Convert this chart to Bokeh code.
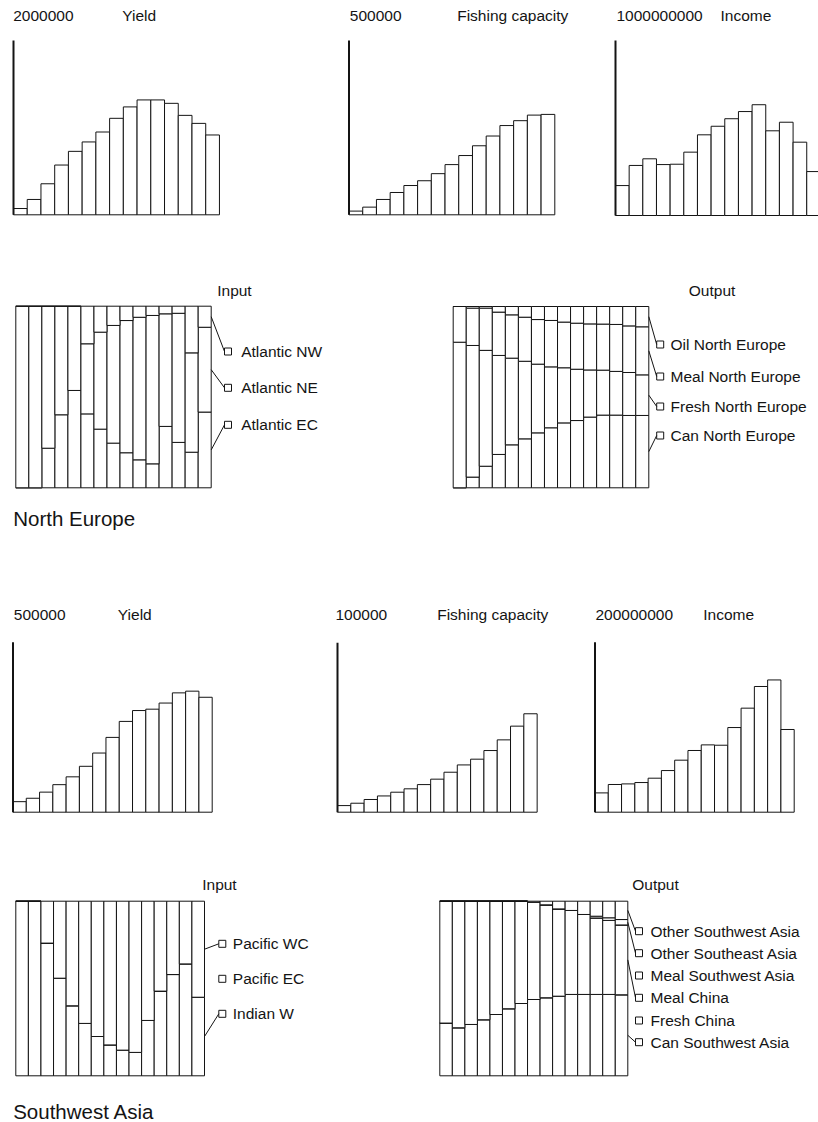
import numpy as np
from bokeh.plotting import figure
from bokeh.layouts import column, row
from bokeh.models import ColumnDataSource, Range1d
from bokeh.core.properties import value
from bokeh.embed import file_html
from bokeh.resources import INLINE

# ---------------- data ----------------
periods = list(range(1, 16))

# North Europe
ne_yield = [72000, 176000, 356000, 571000, 728000, 836000, 950000, 1107000,
            1238000, 1318000, 1318000, 1279000, 1141000, 1049000, 916000]
ne_capacity = [10600, 22000, 44000, 64000, 84000, 97700, 118000, 144000,
               170000, 198000, 226000, 256000, 270000, 286000, 288000]
ne_income = [171e6, 286e6, 324e6, 291e6, 293e6, 362e6, 461e6, 510e6,
             553e6, 594e6, 633e6, 484e6, 533e6, 419e6, 251e6]

ne_input_labels = ["Atlantic NW", "Atlantic NE", "Atlantic EC"]          # top -> bottom
ne_in_nw = [0, 0, 0, 0, 0, 0.207, 0.143, 0.106, 0.079, 0.061, 0.051, 0.042, 0.039, 0.257, 0.116]
ne_in_ne = [1, 1, 0.782, 0.598, 0.464, 0.386, 0.534, 0.648, 0.728, 0.785, 0.817, 0.620, 0.711, 0.547, 0.467]
ne_in_ec = [0, 0, 0.218, 0.402, 0.536, 0.407, 0.323, 0.246, 0.193, 0.154, 0.132, 0.338, 0.250, 0.196, 0.417]

ne_output_labels = ["Oil North Europe", "Meal North Europe", "Fresh North Europe", "Can North Europe"]
ne_out_oil = [0, 0.009, 0.009, 0.031, 0.046, 0.059, 0.072, 0.077, 0.086, 0.092, 0.096, 0.097, 0.099, 0.107, 0.112]
ne_out_meal = [0.197, 0.206, 0.233, 0.239, 0.239, 0.243, 0.246, 0.256, 0.252, 0.254, 0.254, 0.254, 0.259, 0.257, 0.265]
ne_out_fresh = [0.803, 0.726, 0.639, 0.546, 0.478, 0.428, 0.379, 0.336, 0.304, 0.283, 0.260, 0.248, 0.241, 0.237, 0.224]
ne_out_can = [0, 0.059, 0.119, 0.184, 0.237, 0.270, 0.303, 0.331, 0.358, 0.371, 0.390, 0.401, 0.401, 0.399, 0.399]

# Southwest Asia
sw_yield = [31000, 41000, 59000, 81000, 104000, 135000, 174000, 220000,
            267000, 299000, 303000, 321000, 351000, 356000, 338000]
sw_capacity = [3900, 5300, 7500, 9600, 11800, 13800, 16300, 19500,
               23600, 27900, 31300, 36400, 42700, 50800, 58100]
sw_income = [22.7e6, 32.6e6, 33.3e6, 34.9e6, 40.0e6, 49.0e6, 61.2e6, 72.6e6,
             79.2e6, 78.8e6, 99.6e6, 122.4e6, 147.9e6, 155.6e6, 97.3e6]

sw_input_labels = ["Pacific WC", "Pacific EC", "Indian W"]
sw_in_pwc = [0, 0, 0.240, 0.441, 0.599, 0.700, 0.775, 0.823, 0.853, 0.866, 0.683, 0.515, 0.420, 0.359, 0.550]
sw_in_pec = [0, 0, 0, 0, 0, 0, 0, 0, 0, 0, 0, 0, 0, 0, 0]
sw_in_iw = [1, 1, 0.760, 0.559, 0.401, 0.300, 0.225, 0.177, 0.147, 0.134, 0.317, 0.485, 0.580, 0.641, 0.450]

sw_output_labels = ["Other Southwest Asia", "Other Southeast Asia", "Meal Southwest Asia",
                    "Meal China", "Fresh China", "Can Southwest Asia"]
sw_out_osw = [0, 0, 0, 0, 0, 0, 0, 0.006, 0.021, 0.044, 0.053, 0.076, 0.086, 0.095, 0.105]
sw_out_ose = [0, 0, 0, 0, 0, 0, 0, 0, 0, 0, 0, 0, 0.010, 0.015, 0.031]
sw_out_msw = [0, 0, 0, 0, 0, 0, 0, 0, 0, 0, 0, 0, 0, 0, 0]
sw_out_mc = [0.698, 0.725, 0.706, 0.679, 0.649, 0.616, 0.586, 0.557, 0.532, 0.500, 0.481, 0.458, 0.438, 0.424, 0.400]
sw_out_fc = [0, 0, 0, 0, 0, 0, 0, 0, 0, 0, 0, 0, 0, 0, 0]
sw_out_can = [0.302, 0.275, 0.294, 0.321, 0.351, 0.384, 0.414, 0.437, 0.447, 0.456, 0.466, 0.466, 0.466, 0.466, 0.464]

# ---------------- styling ----------------
FONT = value("Liberation Sans")
FS = "15.5px"
INK = "#141414"


class Panel:
    """A figure whose frame is the whole canvas; data are placed with the
    figure's own linear scales, anchored to a page-pixel layout."""

    def __init__(self, X0, Y0, W, H, ax, bw, yt, yb, vmax):
        self.ax, self.bw, self.yb = ax, bw, yb
        self.ppu = (yb - yt) / vmax
        xr = ((X0 - ax) / bw, (X0 + W - ax) / bw)
        yr = ((yb - (Y0 + H)) / self.ppu, (yb - Y0) / self.ppu)
        p = figure(width=W, height=H, x_range=Range1d(*xr), y_range=Range1d(*yr),
                   output_backend="svg", toolbar_location=None, title=None,
                   x_axis_location=None, y_axis_location=None, min_border=0,
                   outline_line_color=None, background_fill_color="white",
                   border_fill_color="white")
        p.grid.visible = False
        self.p = p

    def dx(self, px):
        return (px - self.ax) / self.bw

    def dy(self, py):
        return (self.yb - py) / self.ppu

    def label(self, txt, px, py, size=FS):
        self.p.text(x=[self.dx(px)], y=[self.dy(py)], text=[txt], text_font=FONT,
                    text_font_size=size, text_baseline="middle", text_align="left",
                    text_color=INK)


def bar_panel(X0, Y0, W, H, ax, bw, yt, yb, vmax, vals, scale_txt, scale_px, title, title_px, label_py):
    pn = Panel(X0, Y0, W, H, ax, bw, yt, yb, vmax)
    xs = np.arange(len(periods)) + 0.5
    pn.p.vbar(x=xs, width=1, bottom=0, top=vals, fill_color="white",
              line_color=INK, line_width=1)
    pn.p.segment(x0=[0], y0=[0], x1=[0], y1=[vmax], line_color=INK, line_width=2)
    pn.label(scale_txt, scale_px, label_py)
    pn.label(title, title_px, label_py)
    return pn.p


def stack_panel(X0, Y0, W, H, bx0, bx1, by_top, by_bot, series_top_down, labels,
                title, title_px, title_py, sq_px, txt_px, leg_py, section=None):
    n = len(periods)
    pn = Panel(X0, Y0, W, H, bx0, (bx1 - bx0) / n, by_top, by_bot, 1.0)
    p = pn.p
    keys = [f"s{i}" for i in range(len(series_top_down))]
    data = {"x": np.arange(n) + 0.5}
    for k, s in zip(keys, series_top_down):
        data[k] = s
    src = ColumnDataSource(data)
    p.vbar_stack(stackers=keys[::-1], x="x", width=1, source=src,
                 fill_color="white", line_color=INK, line_width=1)
    # legend squares, texts and leader lines to the last bar
    sq_x = pn.dx(sq_px)
    half = 3.5 / pn.bw
    ly = [pn.dy(v) for v in leg_py]
    p.scatter(x=[sq_x] * len(labels), y=ly, marker="square", size=7,
              fill_color="white", line_color=INK, line_width=1)
    p.text(x=[pn.dx(txt_px)] * len(labels), y=ly, text=labels, text_font=FONT,
           text_font_size=FS, text_baseline="middle", text_align="left", text_color=INK)
    last = [s[-1] for s in series_top_down]
    top = 1.0
    x0s, y0s, x1s, y1s = [], [], [], []
    for v, yy in zip(last, ly):
        mid = top - v / 2
        if v > 0:
            x0s.append(n)
            y0s.append(mid)
            x1s.append(sq_x - half)
            y1s.append(yy)
        top -= v
    p.segment(x0=x0s, y0=y0s, x1=x1s, y1=y1s, line_color=INK, line_width=1)
    pn.label(title, title_px, title_py)
    if section:
        pn.label(section[0], section[1], section[2], size="20.5px")
    return p


# ---------------- North Europe ----------------
a1 = bar_panel(0, 0, 300, 224, 13.0, 13.73, 40, 214.3, 2000000, ne_yield,
               "2000000", 12.7, "Yield", 121.7, 15)
a2 = bar_panel(300, 0, 290, 224, 348.5, 13.72, 40, 214.3, 500000, ne_capacity,
               "500000", 349.3, "Fishing capacity", 456.7, 15)
a3 = bar_panel(590, 0, 228, 224, 615.0, 13.66, 40, 215, 1000000000, ne_income,
               "1000000000", 616, "Income", 720, 15)

b1 = stack_panel(0, 224, 440, 316, 15.3, 210.7, 305.7, 487.3,
                 [ne_in_nw, ne_in_ne, ne_in_ec], ne_input_labels,
                 "Input", 216.7, 290, 227.5, 240.7, [351, 387.3, 424.3],
                 section=("North Europe", 12.7, 517.7))
b2 = stack_panel(440, 224, 378, 316, 452.7, 648.3, 306, 487.3,
                 [ne_out_oil, ne_out_meal, ne_out_fresh, ne_out_can], ne_output_labels,
                 "Output", 688.3, 290, 659.7, 670, [344, 376, 406, 435])

# ---------------- Southwest Asia ----------------
c1 = bar_panel(0, 540, 300, 290, 12.5, 13.28, 641.7, 811.7, 500000, sw_yield,
               "500000", 13.3, "Yield", 117.3, 614)
c2 = bar_panel(300, 540, 280, 290, 337.0, 13.31, 642.3, 811.7, 100000, sw_capacity,
               "100000", 335, "Fishing capacity", 436.7, 614)
c3 = bar_panel(580, 540, 238, 290, 594.5, 13.28, 641.7, 811.7, 200000000, sw_income,
               "200000000", 595, "Income", 702.7, 614)

d1 = stack_panel(0, 830, 430, 292, 15.3, 204.0, 900.7, 1075.3,
                 [sw_in_pwc, sw_in_pec, sw_in_iw], sw_input_labels,
                 "Input", 201.7, 884.3, 221.8, 232.3, [943.3, 978.3, 1013.3],
                 section=("Southwest Asia", 12.7, 1110.5))
d2 = stack_panel(430, 830, 388, 292, 439.3, 627.3, 900.7, 1075.3,
                 [sw_out_osw, sw_out_ose, sw_out_msw, sw_out_mc, sw_out_fc, sw_out_can],
                 sw_output_labels, "Output", 631.7, 884.3, 638.5, 650,
                 [930.7, 952.7, 975, 997.3, 1020, 1041.7])

layout = column(row(a1, a2, a3, spacing=0), row(b1, b2, spacing=0),
                row(c1, c2, c3, spacing=0), row(d1, d2, spacing=0), spacing=0)

open("out.html", "w").write(file_html(layout, INLINE))
